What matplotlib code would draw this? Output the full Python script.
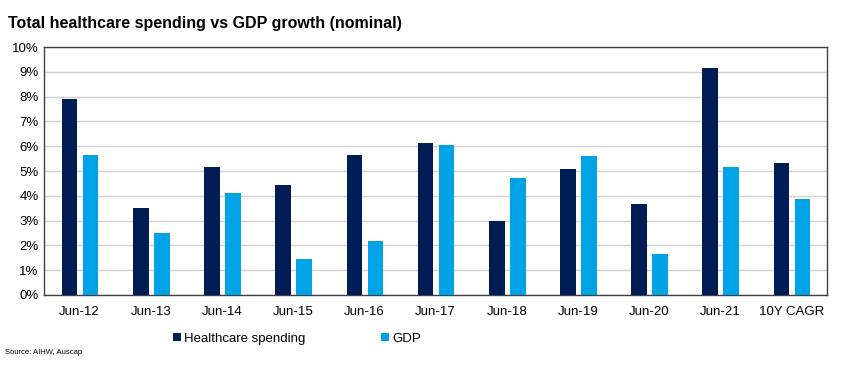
import matplotlib
matplotlib.use("Agg")
import matplotlib.pyplot as plt
import numpy as np

plt.rcParams['font.family'] = ['Liberation Sans', 'DejaVu Sans']

categories = ['Jun-12', 'Jun-13', 'Jun-14', 'Jun-15', 'Jun-16', 'Jun-17',
              'Jun-18', 'Jun-19', 'Jun-20', 'Jun-21', '10Y CAGR']
healthcare = [7.9, 3.5, 5.16, 4.43, 5.65, 6.13, 2.98, 5.08, 3.67, 9.15, 5.32]
gdp = [5.65, 2.5, 4.11, 1.45, 2.18, 6.05, 4.72, 5.6, 1.65, 5.16, 3.87]

navy = '#001C55'
blue = '#00A3E6'

fig = plt.figure(figsize=(8.53, 3.65), dpi=100)
ax = fig.add_axes([0.0516, 0.1918, 0.918, 0.6794])

x = np.arange(len(categories))
w = 0.22
ax.bar(x - 0.14, healthcare, w, color=navy, label='Healthcare spending', zorder=3)
ax.bar(x + 0.155, gdp, w, color=blue, label='GDP', zorder=3)

ax.set_xlim(-0.5, len(categories) - 0.5)
ax.set_ylim(0, 10)
ax.set_yticks(range(0, 11))
ax.set_yticklabels([f'{v}%' for v in range(0, 11)])
ax.set_xticks(x)
ax.set_xticklabels(categories)
ax.tick_params(axis='both', length=0, labelsize=9.5, colors='black')
ax.tick_params(axis='x', pad=8)
ax.tick_params(axis='y', pad=4)
ax.yaxis.grid(True, color='#d0d0d0', linewidth=1, zorder=0)
for s in ax.spines.values():
    s.set_color('#404040')
    s.set_linewidth(1)

fig.text(0.009, 0.935, 'Total healthcare spending vs GDP growth (nominal)',
         fontsize=11.5, fontweight='bold', va='center')

leg = fig.legend(loc='center', bbox_to_anchor=(0.348, 0.072), ncol=2, frameon=False,
                 fontsize=9.5, handlelength=0.6, handleheight=0.6, handletextpad=0.2,
                 columnspacing=5.8)

fig.text(0.006, 0.033, 'Source: AIHW, Auscap', fontsize=5.5, va='center')

fig.savefig('out.png', dpi=100)
